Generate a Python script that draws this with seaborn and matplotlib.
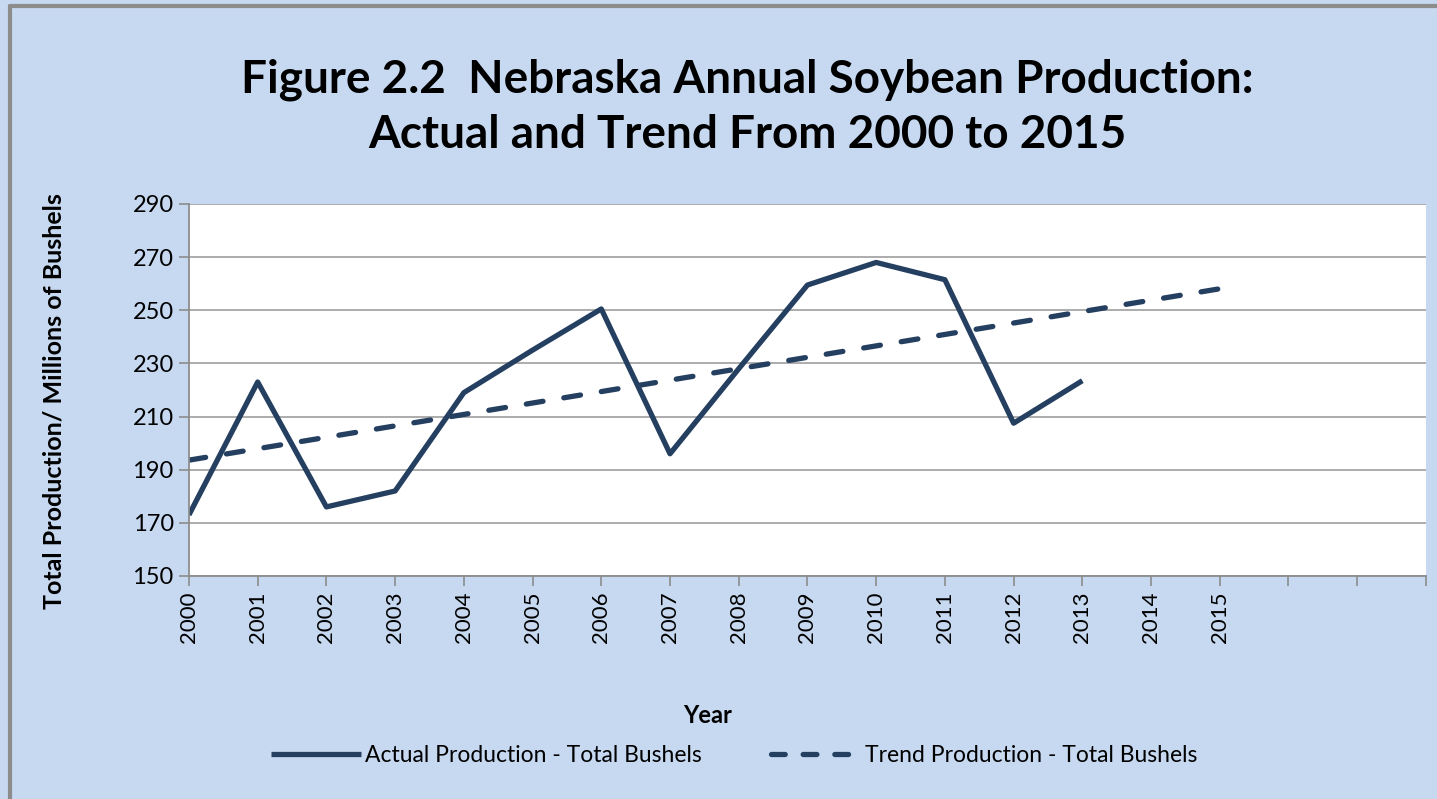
import matplotlib
matplotlib.use('Agg')
import pandas as pd
import seaborn as sns
import matplotlib.pyplot as plt
from matplotlib.lines import Line2D

# Data
years = list(range(2000, 2016))
actual = [173, 223, 176, 182, 219, 235, 250.5, 196, 228, 259.5, 268, 261.5, 207.5, 223.5]
trend = [193.6, 197.9, 202.2, 206.5, 210.8, 215.1, 219.4, 223.7, 228.0, 232.3,
         236.6, 240.9, 245.2, 249.5, 253.8, 258.1]
y_ticks = [150, 170, 190, 210, 230, 250, 270, 290]

bg = '#C6D9F1'
navy = '#243F60'

sns.set_theme(style='white')
plt.rcParams['font.family'] = ['Lato', 'DejaVu Sans']
plt.rcParams['text.color'] = 'black'
plt.rcParams['xtick.color'] = 'black'
plt.rcParams['ytick.color'] = 'black'
plt.rcParams['axes.labelcolor'] = 'black'

df_actual = pd.DataFrame({'idx': range(len(actual)), 'value': actual})
df_trend = pd.DataFrame({'idx': range(len(trend)), 'value': trend})

fig = plt.figure(figsize=(14.37, 7.99), dpi=100, facecolor=bg)
ax = fig.add_axes([0.1315, 0.2791, 0.8608, 0.4656])
ax.set_facecolor('white')

sns.lineplot(data=df_actual, x='idx', y='value', ax=ax, color=navy, lw=3.8,
             label='Actual Production - Total Bushels', legend=False)
sns.lineplot(data=df_trend, x='idx', y='value', ax=ax, color=navy, lw=3.8,
             label='Trend Production - Total Bushels', legend=False)
ax.lines[1].set_dashes([3.2, 4.0])
ax.lines[1].set_dash_capstyle('round')
ax.lines[0].set_solid_capstyle('butt')

ax.set_xlim(0, 18)
ax.set_ylim(150, 290)
ax.set_yticks(y_ticks)
ax.set_yticklabels([str(v) for v in y_ticks], fontsize=17)
ax.set_xticks(range(19))
ax.set_xticklabels([str(y) for y in years] + ['', '', ''], rotation=90, fontsize=16)
ax.tick_params(axis='both', which='both', length=7, width=1.2, color='#8C8C8C',
               labelcolor='black', direction='out', pad=4, left=True, bottom=True)
ax.yaxis.grid(True, color='#A6A6A6', lw=1.3)
ax.xaxis.grid(False)
ax.set_axisbelow(True)
for s in ['top', 'right']:
    ax.spines[s].set_visible(False)
for s in ['left', 'bottom']:
    ax.spines[s].set_color('#8C8C8C')
    ax.spines[s].set_linewidth(1.3)

ax.set_xlabel('')
ax.set_ylabel('Total Production/ Millions of Bushels', fontsize=18, fontweight='bold',
              labelpad=0)
ax.yaxis.set_label_coords(-0.1, 0.47)

fig.text(0.4927, 0.105, 'Year', ha='center', va='center', fontsize=17, fontweight='bold')
fig.text(0.52, 0.9, 'Figure 2.2  Nebraska Annual Soybean Production:',
         ha='center', va='center', fontsize=33, fontweight='bold')
fig.text(0.52, 0.831, 'Actual and Trend From 2000 to 2015',
         ha='center', va='center', fontsize=33, fontweight='bold')

handles = [Line2D([], [], color=navy, lw=3.8, solid_capstyle='butt'),
           Line2D([], [], color=navy, lw=3.8, dashes=[2.6, 3.4], dash_capstyle='round')]
fig.legend(handles, ['Actual Production - Total Bushels', 'Trend Production - Total Bushels'],
           loc='center', bbox_to_anchor=(0.511, 0.055), ncol=2, frameon=False,
           fontsize=16.5, handlelength=3.9, columnspacing=3.0, handletextpad=0.2)

# partial outer border (top and left)
fig.add_artist(Line2D([0.0068, 1.05], [0.9925, 0.9925], transform=fig.transFigure,
                      color='#8C8C8C', lw=3))
fig.add_artist(Line2D([0.0068, 0.0068], [-0.05, 0.9925], transform=fig.transFigure,
                      color='#8C8C8C', lw=3))

fig.savefig('out.png', dpi=100, facecolor=bg)
